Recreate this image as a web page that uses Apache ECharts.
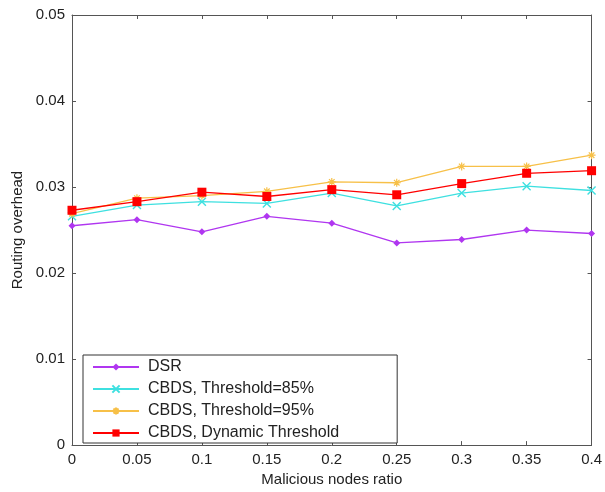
<!DOCTYPE html>
<html>
<head>
<meta charset="utf-8">
<script src="https://cdn.jsdelivr.net/npm/echarts@6/dist/echarts.min.js"></script>
<style>
  html, body { margin: 0; padding: 0; background: #fff; }
  #box01 { width: 605px; height: 492px; }
</style>
</head>
<body>
<div id="box01"></div>
<script>
// 数据
var ratios = [0, 0.05, 0.1, 0.15, 0.2, 0.25, 0.3, 0.35, 0.4];
var dsr = [0.0255, 0.0262, 0.0248, 0.0266, 0.0258, 0.0235, 0.0239, 0.0250, 0.0246];
var cbds85 = [0.0266, 0.0279, 0.0283, 0.0281, 0.0293, 0.0278, 0.0293, 0.0301, 0.0296];
var cbds95 = [0.0269, 0.0287, 0.0290, 0.0295, 0.0306, 0.0305, 0.0324, 0.0324, 0.0337];
var cbdsDyn = [0.0273, 0.0283, 0.0294, 0.0289, 0.0297, 0.0291, 0.0304, 0.0316, 0.0319];
var names = ['DSR', 'CBDS, Threshold=85%', 'CBDS, Threshold=95%', 'CBDS, Dynamic Threshold'];

var FONT = 'Liberation Sans, Arial, sans-serif';

function pairs(ys) {
    return ratios.map(function (x, i) { return [x, ys[i]]; });
}

var myChart = echarts.init(document.getElementById('box01'));

var axisCommon = {
    axisLine: { show: true, onZero: false, lineStyle: { color: '#555', width: 1 } },
    axisTick: { show: true, inside: true, length: 4, lineStyle: { color: '#555' } },
    splitLine: { show: false }
};

function mkSeries(name, data, color, symbol, size, extra) {
    var s = {
        name: name,
        type: 'line',
        data: pairs(data),
        symbol: symbol,
        symbolSize: size,
        lineStyle: { color: color, width: 1.3 },
        itemStyle: { color: color },
        animation: false
    };
    if (extra) { s.itemStyle = extra; }
    return s;
}

var option = {
    backgroundColor: '#fff',
    animation: false,
    grid: { left: 72, right: 9, top: 15, bottom: 45, containLabel: false },
    legend: {
        data: names,
        orient: 'vertical',
        left: 83,
        top: 355,
        backgroundColor: '#fff',
        borderColor: '#333',
        borderWidth: 1,
        padding: [4, 58, 2, 9],
        itemWidth: 46,
        itemHeight: 9,
        itemGap: 6,
        textStyle: { fontFamily: FONT, fontSize: 16, color: '#222', padding: [0, 0, 0, 4] }
    },
    xAxis: [
        Object.assign({
            type: 'value', min: 0, max: 0.4, interval: 0.05,
            name: 'Malicious nodes ratio', nameLocation: 'middle', nameGap: 24,
            nameTextStyle: { fontFamily: FONT, fontSize: 15, color: '#222' },
            axisLabel: { fontFamily: FONT, fontSize: 15, color: '#222', margin: 7 }
        }, axisCommon),
        Object.assign({
            type: 'value', min: 0, max: 0.4, interval: 0.05, position: 'top',
            axisLabel: { show: false }
        }, axisCommon)
    ],
    yAxis: [
        Object.assign({
            type: 'value', min: 0, max: 0.05, interval: 0.01,
            name: 'Routing overhead', nameLocation: 'middle', nameGap: 45,
            nameTextStyle: { fontFamily: FONT, fontSize: 15, color: '#222' },
            axisLabel: { fontFamily: FONT, fontSize: 15, color: '#222', margin: 7 }
        }, axisCommon),
        Object.assign({
            type: 'value', min: 0, max: 0.05, interval: 0.01, position: 'right',
            axisLabel: { show: false }
        }, axisCommon)
    ],
    series: [
        mkSeries(names[0], dsr, '#b036f0', 'diamond', 7),
        mkSeries(names[1], cbds85, '#3ee0e0', 'path://M0,0L10,10M10,0L0,10', 8,
            { color: 'none', borderColor: '#3ee0e0', borderWidth: 1.4 }),
        mkSeries(names[2], cbds95, '#f7c048', 'path://M5,0L5,10M0,5L10,5M1.5,1.5L8.5,8.5M8.5,1.5L1.5,8.5', 8,
            { color: 'none', borderColor: '#f7c048', borderWidth: 1.2 }),
        mkSeries(names[3], cbdsDyn, '#ff0000', 'rect', 9)
    ]
};

myChart.setOption(option);
</script>
</body>
</html>
